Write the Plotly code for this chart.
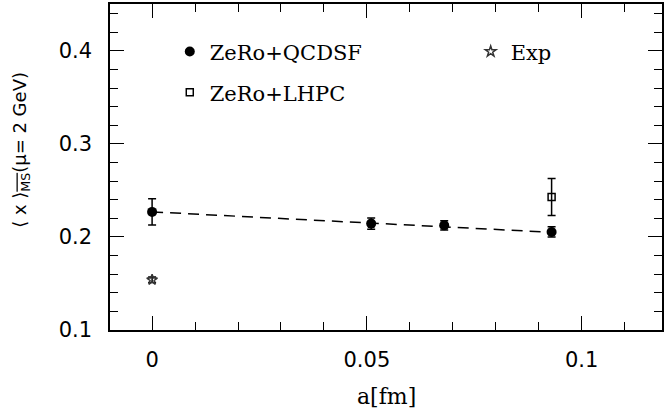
import plotly.graph_objects as go

# Lattice results for the momentum fraction <x> at mu = 2 GeV versus lattice spacing
qcdsf_a = [0.0, 0.051, 0.068, 0.093]
qcdsf_x = [0.227, 0.2144, 0.2125, 0.2054]
qcdsf_err = [0.014, 0.006, 0.005, 0.0055]

lhpc_a = [0.093]
lhpc_x = [0.243]
lhpc_err = [0.020]

exp_a = [0.0]
exp_x = [0.154]
exp_err = [0.003]

# Linear continuum extrapolation (end points)
fit_a = [0.0, 0.093]
fit_x = [0.227, 0.205]

x_tickvals = [0, 0.05, 0.1]
x_ticktext = ["0", "0.05", "0.1"]
y_tickvals = [0.1, 0.2, 0.3, 0.4]
y_ticktext = ["0.1", "0.2", "0.3", "0.4"]

serif = "DejaVu Serif"
sans = "DejaVu Sans"

fig = go.Figure()

fig.add_trace(go.Scatter(
    x=fit_a, y=fit_x, mode="lines",
    line=dict(color="black", width=1.5, dash="11px,7px"),
    showlegend=False, hoverinfo="skip",
))

errstyle = dict(type="data", visible=True, color="black", thickness=1.5, width=4)

fig.add_trace(go.Scatter(
    x=qcdsf_a, y=qcdsf_x, mode="markers", name="ZeRo+QCDSF",
    marker=dict(symbol="circle", size=10, color="black"),
    error_y=dict(array=qcdsf_err, **errstyle),
    legend="legend",
))

fig.add_trace(go.Scatter(
    x=lhpc_a, y=lhpc_x, mode="markers", name="ZeRo+LHPC",
    marker=dict(symbol="square-open", size=7, color="black", line=dict(width=1.5, color="black")),
    error_y=dict(array=lhpc_err, **errstyle),
    legend="legend2",
))

fig.add_trace(go.Scatter(
    x=exp_a, y=exp_x, mode="markers", name="Exp",
    marker=dict(symbol="star-open", size=8, color="#333333", line=dict(width=1.5, color="#333333")),
    error_y=dict(array=exp_err, **errstyle),
    legend="legend3",
))

axis_common = dict(
    showline=True, linecolor="black", linewidth=1.5, mirror="ticks",
    ticks="inside", ticklen=14, tickwidth=1.2, tickcolor="black",
    showgrid=False, zeroline=False,
    tickfont=dict(family=sans, size=21, color="black"),
)

fig.update_xaxes(
    range=[-0.0098, 0.1187],
    tickvals=x_tickvals, ticktext=x_ticktext,
    minor=dict(dtick=0.01, tick0=0, ticks="inside", ticklen=8, tickwidth=1.2, tickcolor="black"),
    ticklabelstandoff=10,
    **axis_common,
)
fig.update_yaxes(
    range=[0.1, 0.4505],
    tickvals=y_tickvals, ticktext=y_ticktext,
    minor=dict(dtick=0.02, tick0=0.1, ticks="inside", ticklen=8, tickwidth=1.2, tickcolor="black"),
    ticklabelstandoff=12,
    **axis_common,
)

legend_common = dict(
    font=dict(family=serif, size=21, color="black"),
    bgcolor="rgba(0,0,0,0)", borderwidth=0,
    xanchor="left", yanchor="middle", itemwidth=30,
)

fig.update_layout(
    width=666, height=410,
    margin=dict(l=110, r=2, t=3, b=80),
    paper_bgcolor="white", plot_bgcolor="white",
    legend=dict(x=0.1083, y=0.853, **legend_common),
    legend2=dict(x=0.1083, y=0.728, **legend_common),
    legend3=dict(x=0.6534, y=0.853, **legend_common),
    annotations=[
        dict(
            text="a[fm]", xref="paper", yref="paper", x=0.5, y=-0.205,
            xanchor="center", yanchor="middle", showarrow=False,
            font=dict(family=serif, size=22, color="black"),
        ),
        dict(
            text="⟨ x ⟩<sub><span style=\"text-decoration:overline\">MS</span></sub>(μ= 2 GeV)",
            xref="paper", yref="paper", x=-0.1625, y=0.5535,
            xanchor="center", yanchor="middle", showarrow=False, textangle=-90,
            font=dict(family=sans, size=18, color="black"),
        ),
    ],
)

fig.write_html("out.html")
